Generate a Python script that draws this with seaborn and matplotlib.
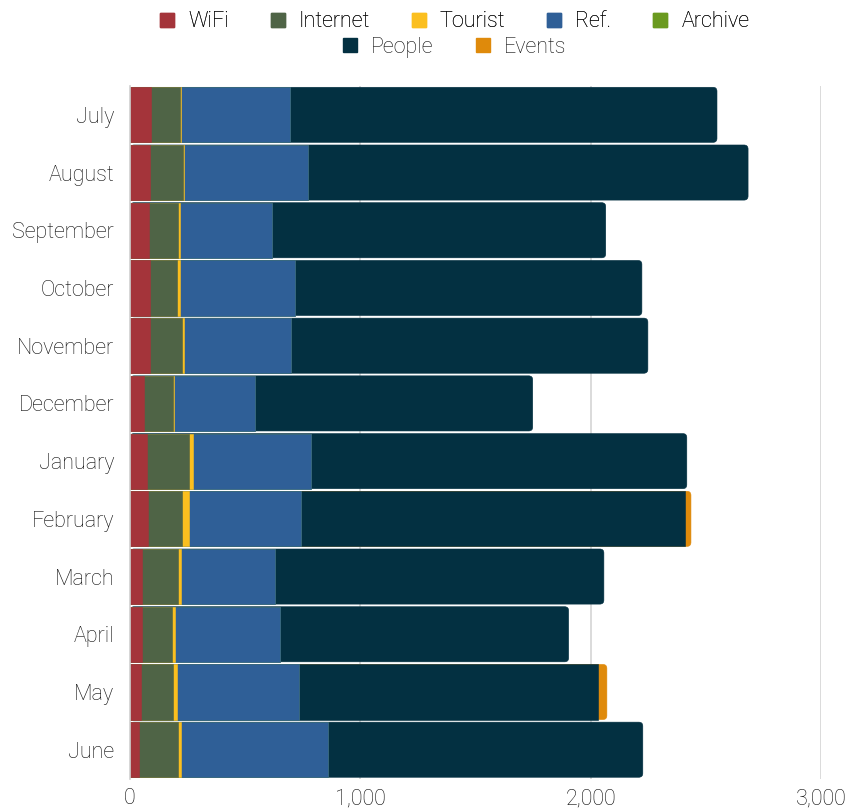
import numpy as np
import pandas as pd
import matplotlib
matplotlib.use("Agg")
import matplotlib.pyplot as plt
from matplotlib.patches import Patch, FancyBboxPatch
import seaborn as sns

months = ["July", "August", "September", "October", "November", "December",
          "January", "February", "March", "April", "May", "June"]

series_names = ["WiFi", "Internet", "Tourist", "Ref.", "Archive", "People", "Events"]
series_colors = ["#a4343a", "#4f6446", "#fbbf1f", "#2f5f97", "#6a9a1f", "#033041", "#df8a0b"]

wifi = [90, 87, 81, 86, 88, 60, 75, 77, 52, 51, 46, 41]
internet = [127, 143, 125, 117, 137, 127, 182, 149, 154, 133, 141, 165]
tourist = [5, 4, 13, 16, 8, 3, 15, 28, 14, 13, 16, 16]
ref = [474, 539, 397, 497, 464, 351, 512, 487, 409, 452, 529, 638]
archive = [0, 0, 0, 2, 0, 3, 0, 0, 2, 3, 2, 1]
people = [1852, 1910, 1449, 1504, 1551, 1204, 1633, 1668, 1426, 1252, 1296, 1365]
events = [0, 0, 0, 0, 0, 0, 0, 26, 0, 0, 40, 0]

x_ticks = [0, 1000, 2000, 3000]
x_tick_labels = ["0", "1,000", "2,000", "3,000"]

sns.set_theme(style="white")
plt.rcParams["font.family"] = ["Roboto", "DejaVu Sans"]
plt.rcParams["font.weight"] = "light"
text_color = "#0a0a0a"
font_size = 15.5

values = np.array([wifi, internet, tourist, ref, archive, people, events], dtype=float)
cumulative = values.cumsum(axis=0)
n_series, n_months = values.shape

fig = plt.figure(figsize=(8.5, 8.11), dpi=100)
ax = fig.add_axes([0.153, 0.040, 0.813, 0.854])

# vertical grid lines behind the bars
for t in x_ticks[1:]:
    ax.axvline(t, color="#d4d4d4", lw=1.2, zorder=0)

# stacked bars: draw running totals from the outermost series inwards
containers = {}
for i in range(n_series - 1, -1, -1):
    df = pd.DataFrame({"month": months, "value": cumulative[i]})
    sns.barplot(data=df, x="value", y="month", order=months, orient="h",
                color=series_colors[i], saturation=1, width=0.955,
                edgecolor=series_colors[i], linewidth=0.4, ax=ax, zorder=2)
    containers[i] = ax.containers[-1]

# give each bar a softly rounded end on its outermost non-empty segment
px_per_x = 0.813 * 850 / 3000
px_per_y = 0.854 * 811 / 12
radius_px = 4.0
for j in range(n_months):
    nonzero = [i for i in range(n_series) if values[i, j] > 0]
    last = nonzero[-1]
    for i in range(last + 1, n_series):
        containers[i].patches[j].set_visible(False)
    rect = containers[last].patches[j]
    rect.set_visible(False)
    x0, y0 = rect.get_x(), rect.get_y()
    w, h = rect.get_width(), rect.get_height()
    rounded = FancyBboxPatch(
        (x0, y0), w, h,
        boxstyle=f"round,pad=0,rounding_size={radius_px / px_per_x}",
        mutation_aspect=px_per_x / px_per_y,
        facecolor=series_colors[last], edgecolor=series_colors[last],
        linewidth=0.4, zorder=1.9)
    ax.add_patch(rounded)

ax.set_xlim(0, 3000)
ax.set_ylim(11.5, -0.5)
ax.set_xticks(x_ticks)
ax.set_xticklabels(x_tick_labels)
ax.set_xlabel("")
ax.set_ylabel("")
ax.tick_params(axis="both", length=0, labelsize=font_size, labelcolor=text_color)
ax.tick_params(axis="x", pad=7)
ax.tick_params(axis="y", pad=11.5)
for side in ["top", "right", "bottom"]:
    ax.spines[side].set_visible(False)
ax.spines["left"].set_color("#cfcfcf")
ax.spines["left"].set_linewidth(1.2)

handles = [Patch(facecolor=c, edgecolor=c) for c in series_colors]
leg_kw = dict(frameon=False, fontsize=font_size, handlelength=0.65, handleheight=0.65,
              handletextpad=0.65, columnspacing=1.95, labelcolor=text_color,
              loc="center")
leg1 = fig.legend(handles[:5], series_names[:5], ncol=5,
                  bbox_to_anchor=(0.535, 0.973), **leg_kw)
fig.add_artist(leg1)
fig.legend(handles[5:], series_names[5:], ncol=2,
           bbox_to_anchor=(0.535, 0.942), **leg_kw)

fig.savefig("out.png", dpi=100)
